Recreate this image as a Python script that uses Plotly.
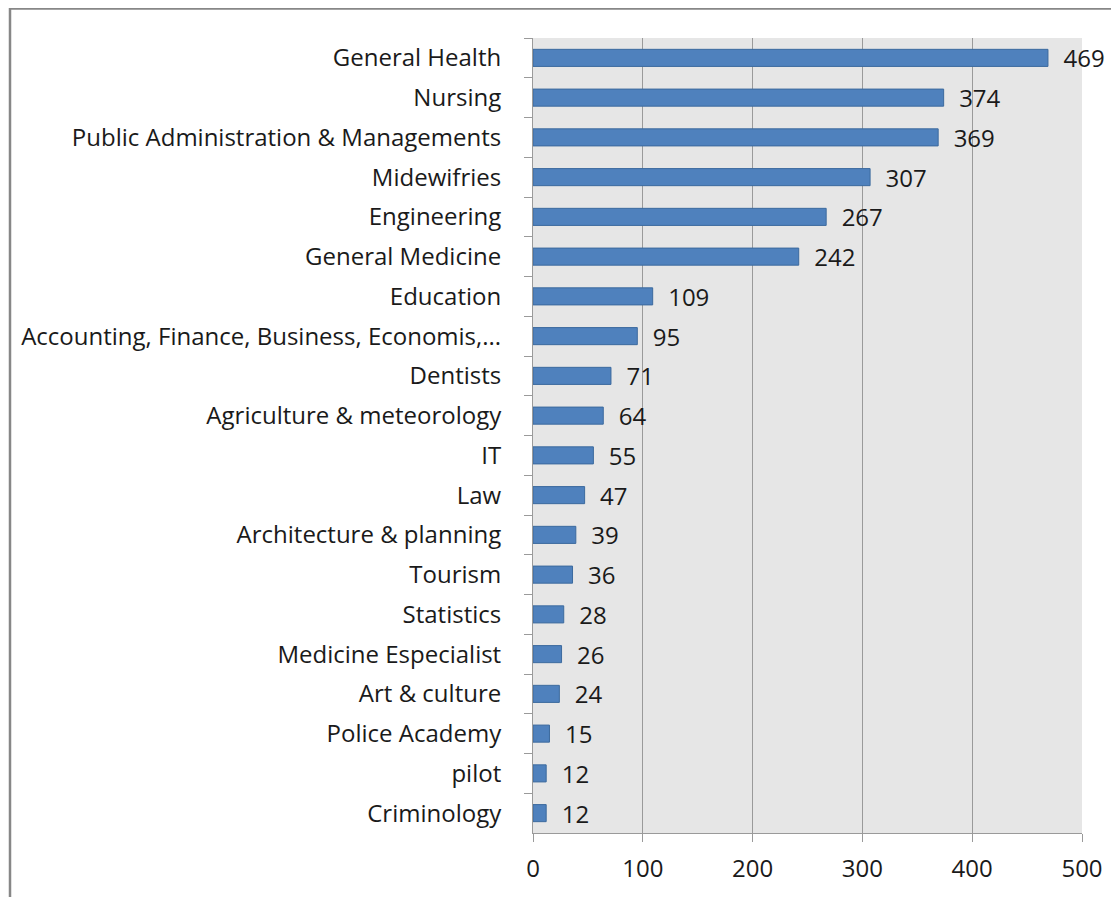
import plotly.graph_objects as go

categories = [
    "General Health", "Nursing", "Public Administration & Managements", "Midewifries",
    "Engineering", "General Medicine", "Education",
    "Accounting, Finance, Business, Economis,...", "Dentists",
    "Agriculture & meteorology", "IT", "Law", "Architecture & planning", "Tourism",
    "Statistics", "Medicine Especialist", "Art & culture", "Police Academy", "pilot",
    "Criminology",
]
values = [469, 374, 369, 307, 267, 242, 109, 95, 71, 64, 55, 47, 39, 36, 28, 26, 24, 15, 12, 12]
x_ticks = [0, 100, 200, 300, 400, 500]

# page body has an 8px offset; figure sized to fit the window
OFF = 8
W, H = 1119 - OFF, 897 - OFF
ml, mr, mt, mb = 533 - OFF, 37, 38 - OFF, 64

fig = go.Figure(go.Bar(
    x=values, y=categories, orientation="h",
    marker=dict(color="#4F81BD", line=dict(color="#3C6A9E", width=1)),
    text=values, texttemplate="  %{text}", textposition="outside",
    constraintext="none",
    textfont=dict(family="Open Sans", size=24, color="#1a1a1a"),
    cliponaxis=False, width=0.43,
))

pw = W - ml - mr
ph = H - mt - mb
fig.add_shape(type="rect", xref="paper", yref="paper",
              x0=(2 - ml) / pw, x1=(W - 1 - ml) / pw,
              y0=-0.2, y1=(ph + mt - 0.5) / ph,
              line=dict(color="#878787", width=2.5), layer="below")

fig.update_layout(
    width=W, height=H,
    margin=dict(l=ml, r=mr, t=mt, b=mb),
    paper_bgcolor="white", plot_bgcolor="#E6E6E6",
    showlegend=False,
    font=dict(family="Open Sans", size=24, color="#1a1a1a"),
    xaxis=dict(range=[0, 500], tickvals=x_ticks, showgrid=True, gridcolor="#9A9A9A",
               gridwidth=1, zeroline=False, showline=True, linecolor="#9A9A9A",
               ticks="outside", ticklen=8, tickcolor="#9A9A9A",
               tickfont=dict(size=24), ticklabelstandoff=6),
    yaxis=dict(categoryorder="array", categoryarray=categories, autorange="reversed",
               showline=True, linecolor="#9A9A9A", ticks="outside", ticklen=8,
               tickcolor="#9A9A9A", tickson="boundaries", showgrid=False,
               tickfont=dict(size=24), ticklabelstandoff=26),
)

fig.write_html("out.html")
